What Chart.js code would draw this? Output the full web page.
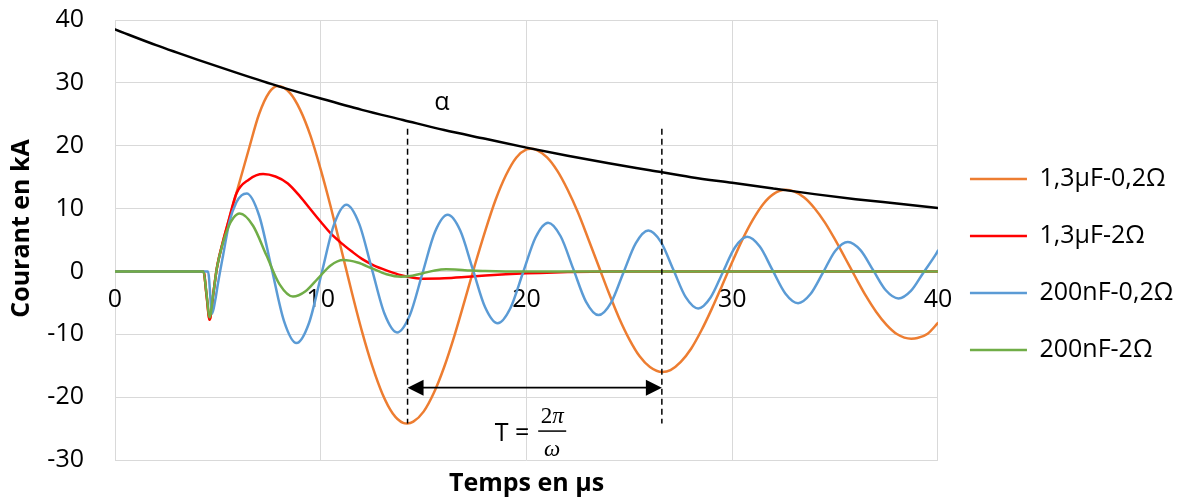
<!DOCTYPE html>
<html><head><meta charset="utf-8">
<script src="https://cdn.jsdelivr.net/npm/chart.js@4.4.1/dist/chart.umd.min.js"></script>
<style>html,body{margin:0;padding:0;background:#fff;}canvas{display:block;}</style>
</head><body>
<canvas id="c" width="1186" height="499"></canvas>
<script>
// ---------- data ----------
const seriesNames = ['1,3µF-0,2Ω', '1,3µF-2Ω', '200nF-0,2Ω', '200nF-2Ω'];
const seriesColors = ['#ED7D31', '#FF0000', '#5B9BD5', '#70AD47'];
const xTickValues = [0, 10, 20, 30, 40];
const yTickValues = [-30, -20, -10, 0, 10, 20, 30, 40];

const tOrange = [0,4.3,4.45,4.6,4.78,4.95,5.25,5.5,6.0,6.5,7.0,7.5,7.92,8.5,9.0,9.5,10.0,10.5,11.0,11.5,12.0,12.5,13.0,13.5,14.0,14.2,14.5,15.0,15.5,16.0,16.5,17.0,17.5,18.0,18.5,19.0,19.5,20.0,20.2,20.5,21.0,21.5,22.0,22.5,23.0,23.5,24.0,24.5,25.0,25.5,26.0,26.6,27.0,27.5,28.0,28.5,29.0,29.5,30.0,30.5,31.0,31.5,32.0,32.6,33.0,33.5,34.0,34.5,35.0,35.5,36.0,36.5,37.0,37.5,38.0,38.7,39.0,39.5,40.0];
const iOrange = [0,0,-3.8,-7.7,-3.5,0.5,4.8,7.8,13.6,19.4,25.0,28.5,29.5,28.4,25.7,21.6,16.2,10.1,3.5,-3.2,-9.5,-15.0,-19.5,-22.6,-24.1,-24.2,-23.9,-22.3,-19.3,-15.2,-10.2,-4.6,1.1,6.5,11.4,15.3,18.1,19.4,19.5,19.3,18.15,16.0,13.0,9.4,5.2,0.9,-3.4,-7.4,-10.8,-13.5,-15.2,-16.0,-15.7,-14.4,-12.3,-9.4,-6.0,-2.3,1.5,5.1,8.2,10.7,12.3,13.0,12.75,11.75,10.05,7.8,5.05,2.06,-0.97,-3.9,-6.45,-8.5,-9.95,-10.7,-10.6,-9.9,-8.2];

const tRed = [0,4.3,4.45,4.6,4.78,4.95,5.25,5.5,5.9,6.5,7.2,7.8,8.4,9.0,9.5,10.0,10.5,11.0,11.5,12.0,12.5,13.0,13.5,14.0,14.5,15.0,16.0,17.0,18.0,19.0,20.0,21.0,22.0,24.0,40];
const iRed = [0,0,-3.8,-7.7,-3.5,0.5,4.8,7.8,12.4,14.6,15.5,15.1,14.0,11.9,9.9,7.9,6.0,4.5,3.2,2.0,1.1,0.4,-0.2,-0.7,-1.0,-1.15,-1.1,-0.9,-0.65,-0.45,-0.3,-0.2,-0.1,0,0];

const tBlue = [0,4.52,4.72,4.87,5.0,5.25,5.57,5.9,6.15,6.4,
  7.005,7.61,8.215,8.82, 9.43,10.035,10.64,11.25, 11.865,12.48,13.095,13.71, 14.325,14.94,15.555,16.17,
  16.78,17.385,17.99,18.6, 19.21,19.825,20.44,21.05, 21.66,22.275,22.89,23.5, 24.105,24.71,25.315,25.92,
  26.53,27.135,27.74,28.35, 28.94,29.535,30.13,30.72, 31.34,31.96,32.58,33.2, 33.805,34.41,35.015,35.62,
  36.235,36.85,37.465,38.08, 38.685,39.29,39.895,40];
const iBlue = [0,0,-6.7,-4.6,-2.0,2.5,8.0,11.0,12.1,12.4,
  8.9,0.5,-7.9,-11.4, -8.2,-0.4,7.4,10.6, 7.6,0.45,-6.7,-9.7, -7.0,-0.35,6.3,9.0,
  6.5,0.4,-5.7,-8.25, -5.9,-0.25,5.4,7.75, 5.6,0.4,-4.8,-6.95, -5.0,-0.2,4.5,6.5,
  4.7,0.3,-4.1,-5.9, -4.2,-0.2,3.8,5.5, 3.95,0.2,-3.5,-5.05, -3.6,-0.2,3.3,4.7,
  3.4,0.2,-3.0,-4.3, -3.1,-0.2,2.7,3.3];

const tGreen = [0,4.3,4.45,4.6,4.78,4.95,5.25,5.5,5.75,6.06,6.71,7.355,8.0,8.65,9.26,9.87,10.48,11.09,11.79,12.49,13.2,13.9,14.45,15.0,15.55,16.1,17.0,18.0,19.0,40];
const iGreen = [0,0,-3.6,-7.3,-3.5,0.5,4.6,7.0,8.5,9.2,7.27,2.6,-2.07,-4.0,-3.15,-1.1,0.95,1.8,1.41,0.475,-0.46,-0.85,-0.68,-0.26,0.16,0.33,0.2,0.05,0,0];

const tAlpha = [0,2,4,6,8,10,12,14,16,18,20,22,24,26,28,30,32,34,36,38,40];
const iAlpha = [38.5,36.0,33.7,31.5,29.4,27.5,25.7,24.1,22.5,21.1,19.7,18.4,17.2,16.1,15.0,14.1,13.2,12.3,11.5,10.8,10.1];

// annotation anchors in data units
const periodStart = 14.22, periodEnd = 26.58;
const periodTop = 22.7, periodBottom = -24.2, periodArrowY = -18.5;
const alphaLabel = {t: 15.89, i: 25.7};
const periodLabel = {t: 19.3, i: -26.9};
const fractionCenter = {t: 21.25, bar: -25.4, num: -24.1, den: -29.3};

// ---------- helpers ----------
const FONT = "'Open Sans', sans-serif";
const MATH = "'Liberation Serif', serif";
const toPts = (ts, vs) => ts.map((t, k) => ({x: t, y: vs[k]}));
const lineDs = (label, color, ts, vs, order) => ({
  label, data: toPts(ts, vs), borderColor: color, backgroundColor: color,
  borderWidth: 2.5, pointRadius: 0, cubicInterpolationMode: 'monotone', order, borderCapStyle: 'round'
});

const annotationPlugin = {
  id: 'annot',
  afterDatasetsDraw(chart) {
    const {ctx, chartArea} = chart;
    const xs = chart.scales.x, ys = chart.scales.y;
    const X = v => xs.getPixelForValue(v), Y = v => ys.getPixelForValue(v);
    ctx.save();
    ctx.strokeStyle = '#000'; ctx.fillStyle = '#000';
    // dashed verticals
    ctx.lineWidth = 1.5; ctx.setLineDash([6, 4]);
    [periodStart, periodEnd].forEach(t => {
      ctx.beginPath(); ctx.moveTo(X(t), Y(periodTop)); ctx.lineTo(X(t), Y(periodBottom)); ctx.stroke();
    });
    ctx.setLineDash([]);
    // double arrow
    const ay = Y(periodArrowY), x1 = X(periodStart), x2 = X(periodEnd);
    const hl = 16, hw = 8;
    ctx.lineWidth = 1.8;
    ctx.beginPath(); ctx.moveTo(x1 + hl - 2, ay); ctx.lineTo(x2 - hl + 2, ay); ctx.stroke();
    ctx.beginPath(); ctx.moveTo(x1, ay); ctx.lineTo(x1 + hl, ay - hw); ctx.lineTo(x1 + hl, ay + hw); ctx.closePath(); ctx.fill();
    ctx.beginPath(); ctx.moveTo(x2, ay); ctx.lineTo(x2 - hl, ay - hw); ctx.lineTo(x2 - hl, ay + hw); ctx.closePath(); ctx.fill();
    // alpha
    ctx.font = `25px ${FONT}`; ctx.textAlign = 'center'; ctx.textBaseline = 'alphabetic';
    ctx.fillText('α', X(alphaLabel.t), Y(alphaLabel.i));
    // T = 2π/ω
    ctx.fillText('T =', X(periodLabel.t), Y(periodLabel.i));
    const fx = X(fractionCenter.t);
    ctx.font = `23px ${MATH}`;
    const w2 = ctx.measureText('2').width;
    ctx.font = `italic 23px ${MATH}`;
    const wp = ctx.measureText('π').width;
    const startX = fx - (w2 + wp) / 2;
    ctx.textAlign = 'left';
    ctx.font = `23px ${MATH}`;
    ctx.fillText('2', startX, Y(fractionCenter.num));
    ctx.font = `italic 23px ${MATH}`;
    ctx.fillText('π', startX + w2, Y(fractionCenter.num));
    ctx.textAlign = 'center';
    ctx.fillText('ω', fx, Y(fractionCenter.den));
    ctx.lineWidth = 1.5;
    ctx.beginPath(); ctx.moveTo(fx - 14, Y(fractionCenter.bar)); ctx.lineTo(fx + 14, Y(fractionCenter.bar)); ctx.stroke();
    // axis titles
    ctx.font = `bold 25px ${FONT}`;
    ctx.textAlign = 'center'; ctx.textBaseline = 'alphabetic';
    ctx.fillText('Temps en µs', (chartArea.left + chartArea.right) / 2, chartArea.bottom + 31);
    ctx.translate(chartArea.left - 93, chartArea.top + 208.5);
    ctx.rotate(-Math.PI / 2);
    ctx.textBaseline = 'middle';
    ctx.fillText('Courant en kA', 0, 0);
    ctx.restore();
  }
};

new Chart(document.getElementById('c'), {
  type: 'line',
  data: {
    datasets: [
      lineDs(seriesNames[0], seriesColors[0], tOrange, iOrange, 5),
      lineDs(seriesNames[1], seriesColors[1], tRed, iRed, 4),
      lineDs(seriesNames[2], seriesColors[2], tBlue, iBlue, 3),
      lineDs(seriesNames[3], seriesColors[3], tGreen, iGreen, 2),
      lineDs('α', '#000000', tAlpha, iAlpha, 1)
    ]
  },
  options: {
    responsive: false, animation: false, devicePixelRatio: 1,
    layout: {padding: {top: 20, bottom: 39, left: 0, right: 2.8}},
    scales: {
      x: {
        type: 'linear', position: {y: 0}, min: 0, max: 40,
        afterBuildTicks: s => { s.ticks = xTickValues.map(v => ({value: v})); },
        afterFit: s => { s.height = 0; },
        ticks: {font: {family: FONT, size: 25}, color: '#000', padding: 13, maxRotation: 0},
        grid: {color: '#d9d9d9', lineWidth: 1, drawTicks: false},
        border: {display: false}
      },
      y: {
        type: 'linear', min: -30, max: 40,
        afterBuildTicks: s => { s.ticks = yTickValues.map(v => ({value: v})); },
        afterFit: s => { s.width = 115; s.paddingTop = 0; s.paddingBottom = 0; },
        ticks: {font: {family: FONT, size: 25}, color: '#000', padding: 31},
        grid: {color: '#d9d9d9', lineWidth: 1, drawTicks: false},
        border: {display: false}
      }
    },
    plugins: {
      tooltip: {enabled: false},
      legend: {
        position: 'right',
        title: {display: true, text: '', font: {size: 10}, padding: {top: 37, bottom: 0}},
        labels: {
          font: {family: FONT, size: 25}, color: '#000',
          boxWidth: 57, boxHeight: 0, padding: 32,
          filter: item => item.datasetIndex < 4,
          sort: (a, b) => a.datasetIndex - b.datasetIndex
        }
      }
    }
  },
  plugins: [annotationPlugin]
});
</script>
</body></html>
